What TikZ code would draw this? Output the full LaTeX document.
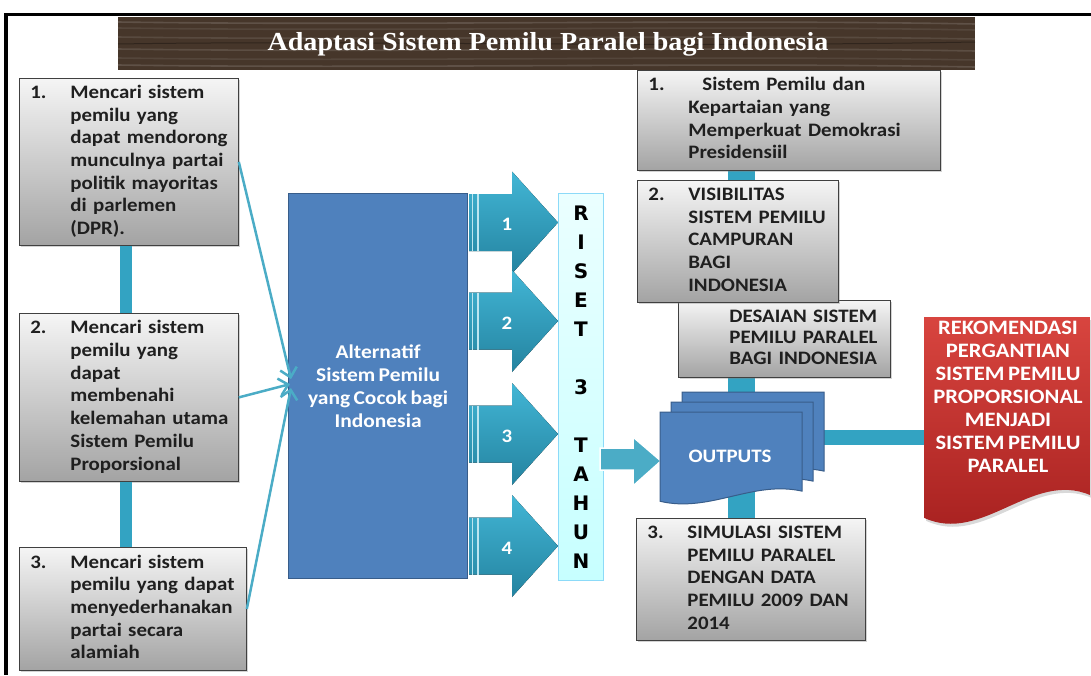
\documentclass[tikz,border=0pt]{standalone}
\usepackage{fontspec}
\setmainfont{Carlito}[FakeStretch=1.1, WordSpace=0.7]
\newfontfamily\titlefont{Liberation Serif}[FakeStretch=1.08]
\newfontfamily\risetfont{DejaVu Sans}
\usetikzlibrary{shadows,arrows.meta,calc}

\definecolor{tealln}{HTML}{4BACC6}
\definecolor{tealbar}{HTML}{33A3C2}
\definecolor{arrtop}{HTML}{42B6D5}
\definecolor{arrbot}{HTML}{2483A0}
\definecolor{altblue}{HTML}{4F81BD}
\definecolor{altedge}{HTML}{385D8A}
\definecolor{wood}{HTML}{46362A}
\definecolor{rekomtop}{HTML}{D8453F}
\definecolor{rekombot}{HTML}{A51F1E}

% number + hanging lines
\newcommand{\numtxt}[2]{\makebox[40pt][l]{#1}\begin{tabular}[t]{@{}l@{}}#2\end{tabular}}
% document shape: x0, y0, width, height
\newcommand{\docpath}[4]{(#1,#2) -- ({#1+#3},#2) -- ({#1+#3},{#2+0.86*#4})
  .. controls ({#1+0.65*#3},{#2+0.74*#4}) and ({#1+0.35*#3},{#2+1.1*#4}) .. (#1,{#2+0.97*#4}) -- cycle}

\begin{document}
\begin{tikzpicture}[x=1pt,y=-1pt,
    graybox/.style={draw=black!75, line width=0.8pt, top color=black!4, bottom color=black!36,
      drop shadow={shadow xshift=2pt, shadow yshift=-2pt, opacity=0.35},
      anchor=north west, inner xsep=11pt, inner ysep=0pt, align=left, text=black!88,
      font=\fontsize{19}{22.7}\selectfont\bfseries},
    bigarrow/.style={top color=arrtop, bottom color=arrbot, draw=none},
    conn/.style={draw=tealln, line width=2.5pt, -{Straight Barb[length=9pt,width=17pt]}}]
\useasboundingbox (0,0) rectangle (1091,675);

%% frame and title
\draw[line width=3pt] (5,14.5) -- (1091,14.5);
\draw[line width=3.5pt] (6,13) -- (6,675);
\fill[wood] (118,17) rectangle (975,70);
\foreach \yy/\op in {22/0.35, 28/0.2, 37/0.25, 49/0.3, 58/0.2, 65/0.35}
  \draw[white!40!wood, opacity=\op, line width=1.6pt] (118,\yy) .. controls (400,\yy+4) and (700,\yy-3) .. (975,\yy+2);
\draw[black, opacity=0.3, line width=1pt] (118,44) .. controls (350,40) and (650,48) .. (975,42);
\node[text=white, font=\titlefont\bfseries\fontsize{26}{30}\selectfont] (title) at (548,44)
  {Adaptasi Sistem Pemilu Paralel bagi Indonesia};

%% spines behind the boxes
\coordinate (lspine) at (126,0);
\coordinate (rspine) at (741,0);

%% left column
\node[graybox, minimum width=219, minimum height=167, text width=197] (L1) at (19,78)
  {\numtxt{1.}{Mencari sistem\\pemilu yang\\dapat mendorong\\munculnya partai\\politik mayoritas\\di parlemen\\(DPR).}};
\node[graybox, minimum width=219, minimum height=168, text width=197] (L2) at (19,313)
  {\numtxt{2.}{Mencari sistem\\pemilu yang\\dapat\\membenahi\\kelemahan utama\\Sistem Pemilu\\Proporsional}};
\node[graybox, minimum width=227, minimum height=123, text width=205] (L3) at (19,547)
  {\numtxt{3.}{Mencari sistem\\pemilu yang dapat\\menyederhanakan\\partai secara\\alamiah}};
\draw[tealbar, line width=12pt] (lspine |- L1.south) -- (lspine |- L2.north);
\draw[tealbar, line width=12pt] (lspine |- L2.south) -- (lspine |- L3.north);

%% centre
\node[fill=altblue, draw=altedge, line width=1.2pt, anchor=north west, minimum width=179, minimum height=385,
  text=white, align=center, font=\fontsize{19.5}{23}\selectfont\bfseries] (alt) at (288,193)
  {Alternatif\\Sistem Pemilu\\yang Cocok bagi\\Indonesia};

\draw[conn] (L1.east) -- ($(alt.west)+(3,-7)$);
\draw[conn] (L2.east) -- ($(alt.west)+(2,-2)$);
\draw[conn] (L3.east) -- ($(alt.west)+(3,2)$);

%% four research arrows
\foreach \i/\yc in {1/222.5, 2/321, 3/434, 4/546}{
  \fill[bigarrow] (469,\yc-28.5) -- (512,\yc-28.5) -- (512,\yc-51) -- (558,\yc)
    -- (512,\yc+51) -- (512,\yc+28.5) -- (469,\yc+28.5) -- cycle;
  \draw[white!65!arrtop, line width=1.3pt] (472.5,\yc-28.5) -- (472.5,\yc+28.5);
  \draw[white!65!arrtop, line width=1.3pt] (478,\yc-28.5) -- (478,\yc+28.5);
  \node[text=white, font=\fontsize{19}{22}\selectfont\bfseries] (n\i) at (507,\yc+2) {\i};
}

\node[top color=cyan!8, bottom color=cyan!22!white, draw=cyan!45!white, line width=1pt,
  anchor=north west, minimum width=45, minimum height=387, inner sep=0pt, align=center,
  font=\risetfont\bfseries\fontsize{20}{29}\selectfont] (riset) at (558,193)
  {R\\I\\S\\E\\T\\[29pt]3\\[29pt]T\\A\\H\\U\\N};

%% right column
\draw[tealbar, line width=27pt] (rspine |- 0,170) -- (rspine |- 0,181);
\draw[tealbar, line width=27pt] (rspine |- 0,376) -- (rspine |- 0,519);
\draw[tealbar, line width=15pt] (823,437) -- (925,437);

\node[graybox, minimum width=303, minimum height=100, text width=281] (R1) at (637,70)
  {\numtxt{1.}{\hspace*{14pt}Sistem Pemilu dan\\Kepartaian yang\\Memperkuat Demokrasi\\Presidensiil}};
\node[graybox, minimum width=212, minimum height=77, text width=190,
  font=\fontsize{19}{21}\selectfont\bfseries] (desain) at (678,300)
  {\numtxt{}{DESAIAN SISTEM\\PEMILU PARALEL\\BAGI INDONESIA}};
\node[graybox, minimum width=201, minimum height=122, text width=179] (R2) at (637,180)
  {\numtxt{2.}{VISIBILITAS\\SISTEM PEMILU\\CAMPURAN\\BAGI\\INDONESIA}};
\node[graybox, minimum width=229, minimum height=122, text width=207] (R3) at (636,518)
  {\numtxt{3.}{SIMULASI SISTEM\\PEMILU PARALEL\\DENGAN DATA\\PEMILU 2009 DAN\\2014}};

%% outputs
\draw[fill=tealln, draw=white, line width=1.5pt] (600,448) -- (633,448) -- (633,437) -- (661,461)
  -- (633,486) -- (633,470) -- (600,470) -- cycle;
\foreach \dx in {22,11,0}
  \draw[fill=altblue, draw=altedge, line width=1pt] \docpath{660+\dx}{412-\dx*10/11}{142}{92};
\node[text=white, font=\fontsize{19}{22}\selectfont\bfseries] (outs) at (730,456) {OUTPUTS};

%% recommendation
\shade[top color=rekomtop, bottom color=rekombot, drop shadow={shadow xshift=2pt, shadow yshift=-3pt, opacity=0.3}]
  \docpath{924}{317}{166}{207};
\node[text=white, align=center, font=\fontsize{20.5}{23}\selectfont\bfseries] (rekom) at (1008,397)
  {REKOMENDASI\\PERGANTIAN\\SISTEM PEMILU\\PROPORSIONAL\\MENJADI\\SISTEM PEMILU\\PARALEL};
\end{tikzpicture}
\end{document}
